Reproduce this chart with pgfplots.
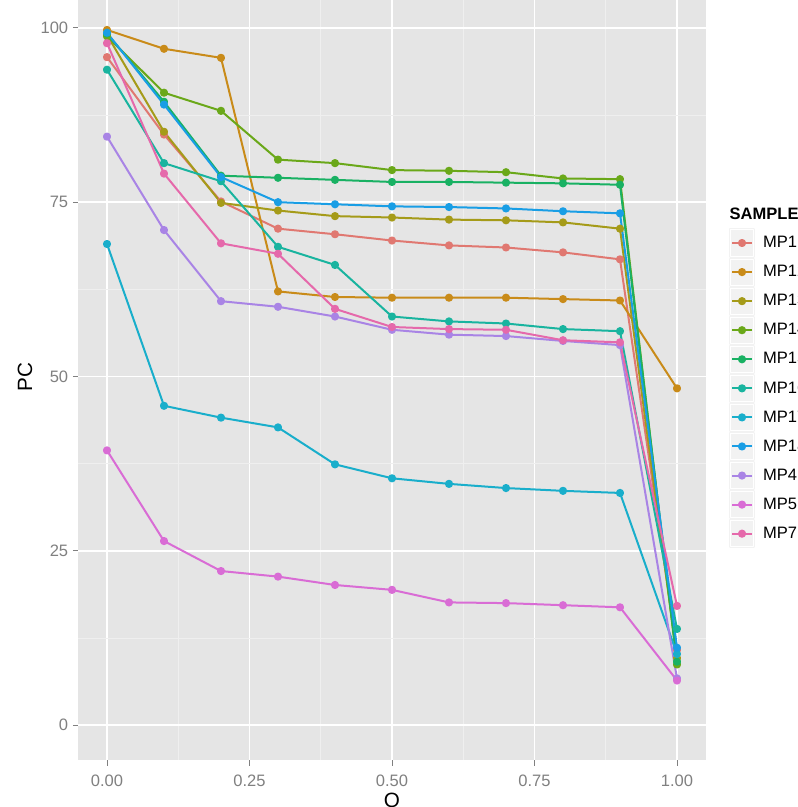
\documentclass[border=0pt]{standalone}
\usepackage{pgfplots}
\pgfplotsset{compat=1.18}
\usepackage{fontspec}
\setmainfont{Liberation Sans}

\definecolor{bgpanel}{HTML}{E5E5E5}
\definecolor{minorgrid}{HTML}{EFEFEF}
\definecolor{keybg}{HTML}{F2F2F2}
\definecolor{tickgrey}{HTML}{808080}
\definecolor{r1}{HTML}{F8766D}
\definecolor{r2}{HTML}{DB8E00}
\definecolor{r3}{HTML}{AEA200}
\definecolor{r4}{HTML}{64B200}
\definecolor{r5}{HTML}{00BD5C}
\definecolor{r6}{HTML}{00C1A7}
\definecolor{r7}{HTML}{00BADE}
\definecolor{r8}{HTML}{00A6FF}
\definecolor{r9}{HTML}{B385FF}
\definecolor{r10}{HTML}{EF67EB}
\definecolor{r11}{HTML}{FF63B6}
% the reference is a bit washed out
\colorlet{c1}{r1!80!gray}
\colorlet{c2}{r2!80!gray}
\colorlet{c3}{r3!80!gray}
\colorlet{c4}{r4!80!gray}
\colorlet{c5}{r5!80!gray}
\colorlet{c6}{r6!80!gray}
\colorlet{c7}{r7!80!gray}
\colorlet{c8}{r8!80!gray}
\colorlet{c9}{r9!80!gray}
\colorlet{c10}{r10!80!gray}
\colorlet{c11}{r11!80!gray}

\pgfplotsset{
  series/.style={color=#1, mark=*, mark size=2.3pt, line width=1.5pt, line join=round, mark options={solid, fill=#1}},
}

\begin{document}
\begin{tikzpicture}
\begin{axis}[
  scale only axis,
  width=470.25pt, height=575.25pt,
  xmin=-0.05, xmax=1.05, ymin=-5, ymax=105,
  axis background/.style={fill=bgpanel},
  axis line style={draw=none},
  xtick={0,0.25,0.5,0.75,1},
  xticklabels={0.00,0.25,0.50,0.75,1.00},
  ytick={0,25,50,75,100},
  minor xtick={0.125,0.375,0.625,0.875},
  minor ytick={12.5,37.5,62.5,87.5},
  grid=both,
  major grid style={white, line width=1.2pt},
  minor grid style={minorgrid, line width=0.6pt},
  tick align=outside,
  major tick length=4.2pt,
  minor tick length=0pt,
  tick style={tickgrey, line width=0.7pt},
  xtick pos=bottom, ytick pos=left,
  /pgf/number format/assume math mode=true,
  tick label style={font=\fontsize{12.4}{14}\selectfont, text=tickgrey},
  xticklabel style={yshift=-3.5pt},
  xlabel={Q}, ylabel={PC},
  every axis x label/.style={at={(axis description cs:0.5,-0.0548)}, anchor=center,
    font=\fontsize{15.5}{18}\selectfont},
  every axis y label/.style={at={(axis description cs:-0.0853,0.4993)}, rotate=90, anchor=center,
    font=\fontsize{15.5}{18}\selectfont},
  legend style={at={(1.0375,0.693)}, anchor=north west, draw=none, fill=none,
    font=\fontsize{12.4}{14}\selectfont, row sep=0pt, inner sep=0pt, outer sep=0pt,
    nodes={inner sep=0pt, outer sep=0pt, anchor=west},
    /tikz/every odd column/.append style={column sep=6pt}},
  legend cell align=left,
  legend image code/.code={
    \fill[keybg] (0pt,-10.15pt) rectangle (18pt,10.15pt);
    \draw[white, line width=0.75pt] (0.375pt,-9.775pt) rectangle (17.625pt,9.775pt);
    \draw[#1, mark repeat=2, mark phase=2] plot coordinates {(1.5pt,0pt) (9pt,0pt) (16.5pt,0pt)};
  },
]
\addplot[series=c1] coordinates {(0,95.8)(0.1,84.7)(0.2,75.1)(0.3,71.2)(0.4,70.4)(0.5,69.5)(0.6,68.8)(0.7,68.5)(0.8,67.8)(0.9,66.8)(1,10.8)};
\addlegendentry{MP1}
\addplot[series=c2] coordinates {(0,99.7)(0.1,97.0)(0.2,95.7)(0.3,62.2)(0.4,61.4)(0.5,61.3)(0.6,61.3)(0.7,61.3)(0.8,61.1)(0.9,60.9)(1,48.3)};
\addlegendentry{MP12}
\addplot[series=c3] coordinates {(0,99.0)(0.1,85.1)(0.2,74.9)(0.3,73.8)(0.4,73.0)(0.5,72.8)(0.6,72.5)(0.7,72.4)(0.8,72.1)(0.9,71.2)(1,9.6)};
\addlegendentry{MP13}
\addplot[series=c4] coordinates {(0,98.8)(0.1,90.7)(0.2,88.1)(0.3,81.1)(0.4,80.6)(0.5,79.6)(0.6,79.5)(0.7,79.3)(0.8,78.4)(0.9,78.3)(1,8.7)};
\addlegendentry{MP14}
\addplot[series=c5] coordinates {(0,99.2)(0.1,89.4)(0.2,78.8)(0.3,78.5)(0.4,78.2)(0.5,77.9)(0.6,77.9)(0.7,77.8)(0.8,77.7)(0.9,77.5)(1,9.1)};
\addlegendentry{MP15}
\addplot[series=c6] coordinates {(0,94.0)(0.1,80.6)(0.2,78.0)(0.3,68.6)(0.4,66.0)(0.5,58.6)(0.6,57.9)(0.7,57.6)(0.8,56.8)(0.9,56.5)(1,13.8)};
\addlegendentry{MP16}
\addplot[series=c7] coordinates {(0,69.0)(0.1,45.8)(0.2,44.1)(0.3,42.7)(0.4,37.4)(0.5,35.4)(0.6,34.6)(0.7,34.0)(0.8,33.6)(0.9,33.3)(1,10.2)};
\addlegendentry{MP17}
\addplot[series=c8] coordinates {(0,99.3)(0.1,89.0)(0.2,78.6)(0.3,75.0)(0.4,74.7)(0.5,74.4)(0.6,74.3)(0.7,74.1)(0.8,73.7)(0.9,73.4)(1,11.1)};
\addlegendentry{MP18}
\addplot[series=c9] coordinates {(0,84.4)(0.1,71.0)(0.2,60.8)(0.3,60.0)(0.4,58.6)(0.5,56.7)(0.6,56.0)(0.7,55.8)(0.8,55.1)(0.9,54.5)(1,6.7)};
\addlegendentry{MP4}
\addplot[series=c10] coordinates {(0,39.4)(0.1,26.4)(0.2,22.1)(0.3,21.3)(0.4,20.1)(0.5,19.4)(0.6,17.6)(0.7,17.5)(0.8,17.2)(0.9,16.9)(1,6.4)};
\addlegendentry{MP5}
\addplot[series=c11] coordinates {(0,97.8)(0.1,79.1)(0.2,69.1)(0.3,67.6)(0.4,59.7)(0.5,57.1)(0.6,56.8)(0.7,56.7)(0.8,55.2)(0.9,54.9)(1,17.1)};
\addlegendentry{MP7}
\end{axis}
\node[anchor=west, inner sep=0pt, font=\bfseries\fontsize{12.4}{14}\selectfont] at (488.2pt,409.5pt) {SAMPLE};
% crop to the reference frame (top of panel, foot of Q and right of legend are cut off)
\pgfresetboundingbox
\path (-58.875pt,-35.25pt) rectangle (539.625pt,570pt);
\end{tikzpicture}
\end{document}
